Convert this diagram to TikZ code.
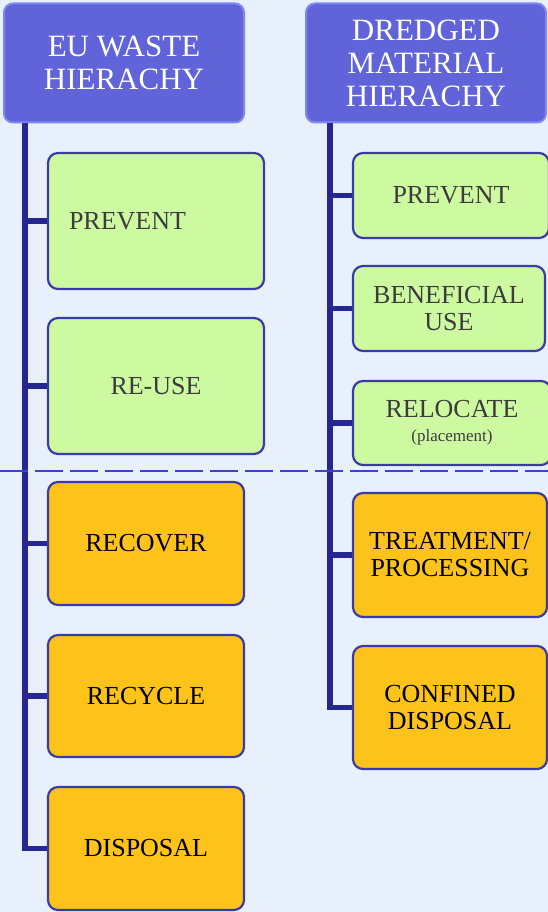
\documentclass[tikz,border=0pt]{standalone}
\usepackage{fontspec}
\setmainfont{Liberation Serif}
\definecolor{bgblue}{HTML}{E8F1FB}
\definecolor{headfill}{HTML}{6064D8}
\definecolor{headedge}{HTML}{8086F2}
\definecolor{navy}{HTML}{25268F}
\definecolor{boxedge}{HTML}{3A3BA6}
\definecolor{leaf}{HTML}{CDF9A1}
\definecolor{amber}{HTML}{FDC31B}
\definecolor{dashblue}{HTML}{3E40D2}
\definecolor{darktext}{HTML}{3C3C3C}
\tikzset{
  x=1pt, y=-1pt,
  header/.style={draw=headedge, line width=2pt, fill=headfill, rounded corners=9pt,
    text=white, align=center, font=\fontsize{31}{33}\selectfont, inner sep=0pt},
  greenbox/.style={draw=boxedge, line width=2.2pt, fill=leaf, rounded corners=10pt,
    text=darktext, align=center, font=\fontsize{26}{27}\selectfont, inner sep=0pt},
  orangebox/.style={draw=boxedge, line width=2.2pt, fill=amber, rounded corners=10pt,
    text=black, align=center, font=\fontsize{26}{27}\selectfont, inner sep=0pt},
  trunk/.style={draw=navy, line width=5.5pt},
  split/.style={draw=dashblue, line width=2pt, dash pattern=on 28pt off 7pt},
}
\begin{document}
\begin{tikzpicture}
% canvas
\fill[bgblue] (0,0) rectangle (548,912);
\useasboundingbox (0,0) rectangle (548,912);

% column headers
\node[header, minimum width=240pt, minimum height=119pt] (hL) at (124,63) {EU WASTE\\HIERACHY};
\node[header, minimum width=240pt, minimum height=119pt] (hR) at (426,63) {DREDGED\\MATERIAL\\HIERACHY};

% trunk start points just under the headers
\coordinate (tL) at (25,123);
\coordinate (tR) at (330,123);

% EU waste hierarchy
\node[greenbox, minimum width=216pt, minimum height=136pt, text width=174pt, align=left] (eu1) at (156,221) {PREVENT};
\node[greenbox, minimum width=216pt, minimum height=136pt] (eu2) at (156,386) {RE-USE};
\node[orangebox, minimum width=196pt, minimum height=123pt] (eu3) at (146,543.5) {RECOVER};
\node[orangebox, minimum width=196pt, minimum height=122pt] (eu4) at (146,696) {RECYCLE};
\node[orangebox, minimum width=196pt, minimum height=123pt] (eu5) at (146,848.5) {DISPOSAL};

% dredged material hierarchy
\node[greenbox, minimum width=196pt, minimum height=85pt] (dm1) at (451,195.5) {PREVENT};
\node[greenbox, minimum width=192pt, minimum height=85pt] (dm2) at (449,308.5) {BENEFICIAL\\USE};
\node[greenbox, minimum width=198pt, minimum height=84pt] (dm3) at (452,423) {RELOCATE\\[-3pt]{\fontsize{17}{18}\selectfont(placement)}};
\node[orangebox, minimum width=194pt, minimum height=124pt] (dm4) at (450,555) {TREATMENT/\\PROCESSING};
\node[orangebox, minimum width=194pt, minimum height=123pt] (dm5) at (450,707.5) {CONFINED\\DISPOSAL};

% connectors: trunk down the left side of each column, one branch per box
\foreach \b in {eu1,eu2,eu3,eu4,eu5} \draw[trunk] (tL) |- (\b.west);
\foreach \b in {dm1,dm2,dm3,dm4,dm5} \draw[trunk] (tR) |- (\b.west);

% boundary between the upper and lower tiers
\coordinate (sL) at (0,471);
\coordinate (sR) at (548,471);
\draw[split] (sL) -- (sR);
\end{tikzpicture}
\end{document}
